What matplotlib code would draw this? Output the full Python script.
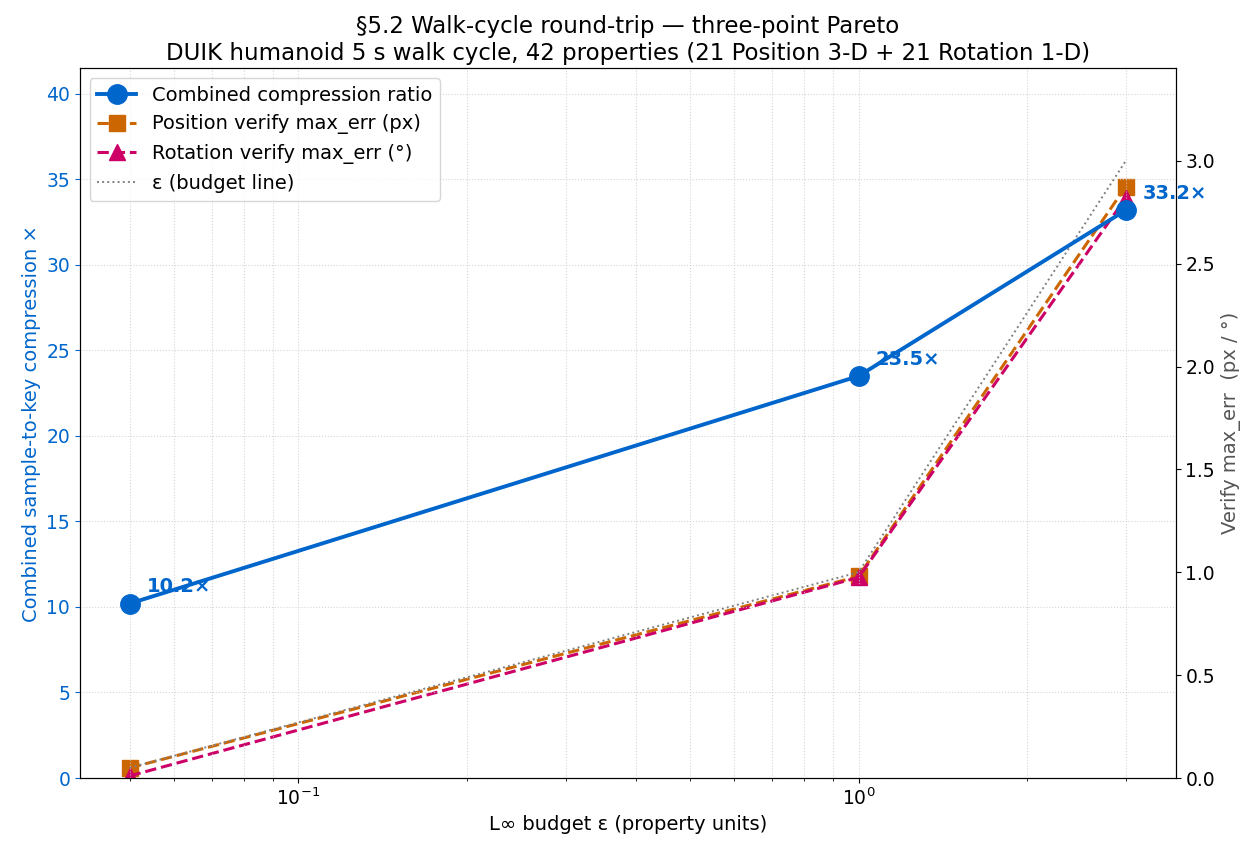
import matplotlib.pyplot as plt

# budget points and measurements
eps = [0.05, 1.0, 3.0]
ratio = [10.2, 23.5, 33.2]
pos_err = [0.049, 0.98, 2.875]
rot_err = [0.01, 0.975, 2.82]

blue = "#0066CC"
orange = "#CC6600"
magenta = "#CC0066"

fig = plt.figure(figsize=(12.48, 8.42), dpi=100)
ax = fig.add_axes([0.064, 0.076, 0.878, 0.843])
ax2 = ax.twinx()

l1, = ax.plot(eps, ratio, "-o", color=blue, lw=2.8, ms=14,
              label="Combined compression ratio", zorder=5)
for x, r in zip(eps, ratio):
    ax.annotate(f"{r:.1f}×", (x, r), xytext=(12, 8), textcoords="offset points",
                color=blue, fontsize=14, fontweight="bold")

l2, = ax2.plot(eps, pos_err, "--s", color=orange, lw=2.2, ms=12,
               label="Position verify max_err (px)")
l3, = ax2.plot(eps, rot_err, "--^", color=magenta, lw=2.2, ms=12,
               label="Rotation verify max_err (°)")
l4, = ax2.plot(eps, eps, ":", color="grey", lw=1.4, label="ε (budget line)")

ax.set_xscale("log")
ax.set_ylim(0, 41.5)
ax2.set_ylim(0, 3.45)
ax.set_zorder(ax2.get_zorder() + 1)
ax.patch.set_visible(False)

ax.grid(True, which="both", ls=":", color="#cccccc", alpha=0.8)

ax.set_xlabel("L∞ budget ε (property units)", fontsize=14)
ax.set_ylabel("Combined sample-to-key compression ×", color=blue, fontsize=14)
ax.tick_params(axis="y", colors=blue, labelsize=13.5)
ax.tick_params(axis="x", labelsize=13.5)
ax2.set_ylabel("Verify max_err  (px / °)", color="#555555", fontsize=14)
ax2.tick_params(axis="y", labelsize=13.5)

ax.set_title("§5.2 Walk-cycle round-trip — three-point Pareto\n"
             "DUIK humanoid 5 s walk cycle, 42 properties (21 Position 3-D + 21 Rotation 1-D)",
             fontsize=16.5)

ax.legend(handles=[l1, l2, l3, l4], loc="upper left", fontsize=14)

fig.savefig("out.png", dpi=100)
